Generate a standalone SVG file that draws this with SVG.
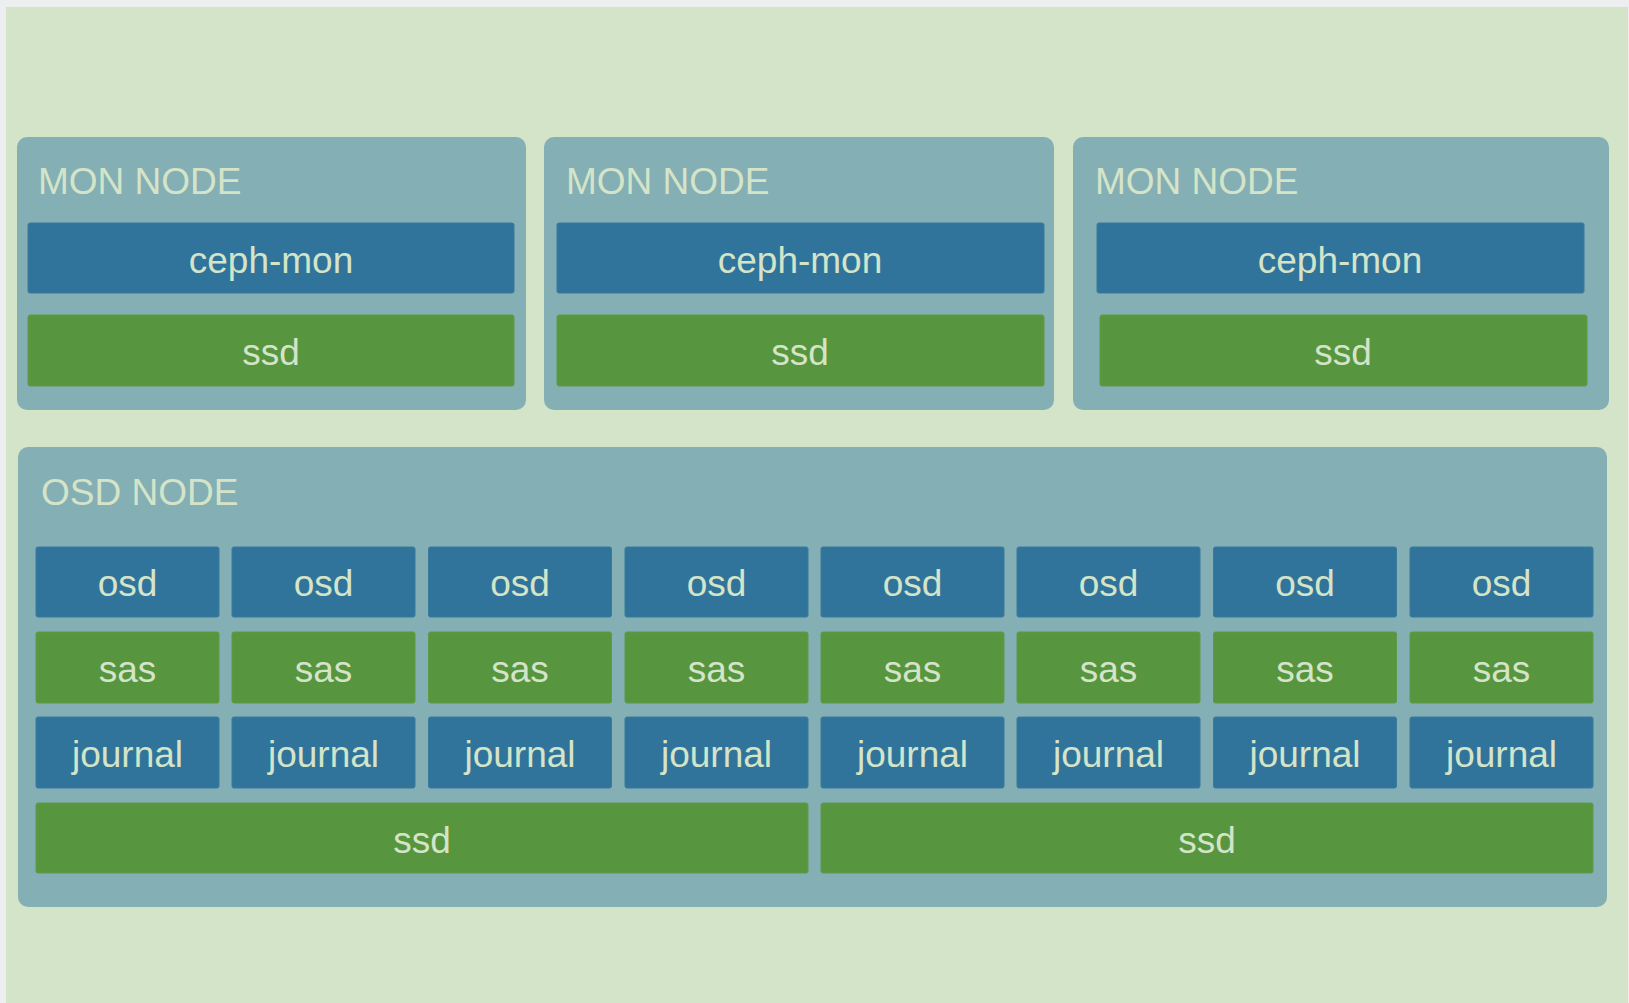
<svg xmlns="http://www.w3.org/2000/svg" width="1629" height="1003" viewBox="0 0 1629 1003">
<style>
.node{fill:#84AFB4;}
.blue{fill:#31749B;stroke:#3A7A9C;stroke-width:1;}
.green{fill:#57953F;stroke:#5E9A48;stroke-width:1;}
.title{font-family:"Liberation Sans",Arial,sans-serif;font-size:37px;fill:#D4E4C8;}
.lbl{font-family:"Liberation Sans",Arial,sans-serif;font-size:37px;fill:#D4E4C8;text-anchor:middle;}
</style>
<rect x="0" y="0" width="1629" height="1003" fill="#ECEEF0"/>
<rect x="6" y="7" width="1622" height="996" fill="#D4E4C8"/>

<g id="mon1">
<rect class="node" x="17" y="137" width="509" height="273" rx="10"/>
<text class="title" x="38" y="194">MON NODE</text>
<rect class="blue" x="28" y="223" width="486" height="70" rx="2"/>
<text class="lbl" x="271" y="273">ceph-mon</text>
<rect class="green" x="28" y="315" width="486" height="71" rx="2"/>
<text class="lbl" x="271" y="365">ssd</text>
</g>

<g id="mon2">
<rect class="node" x="544" y="137" width="510" height="273" rx="10"/>
<text class="title" x="566" y="194">MON NODE</text>
<rect class="blue" x="557" y="223" width="487" height="70" rx="2"/>
<text class="lbl" x="800" y="273">ceph-mon</text>
<rect class="green" x="557" y="315" width="487" height="71" rx="2"/>
<text class="lbl" x="800" y="365">ssd</text>
</g>

<g id="mon3">
<rect class="node" x="1073" y="137" width="536" height="273" rx="10"/>
<text class="title" x="1095" y="194">MON NODE</text>
<rect class="blue" x="1097" y="223" width="487" height="70" rx="2"/>
<text class="lbl" x="1340" y="273">ceph-mon</text>
<rect class="green" x="1100" y="315" width="487" height="71" rx="2"/>
<text class="lbl" x="1343" y="365">ssd</text>
</g>

<g id="osdnode">
<rect class="node" x="18" y="447" width="1589" height="460" rx="10"/>
<text class="title" x="41" y="505">OSD NODE</text>
</g>

<g id="osd-col1">
<rect class="blue" x="36" y="547" width="183" height="70" rx="2"/><text class="lbl" x="127.5" y="596">osd</text>
<rect class="green" x="36" y="632" width="183" height="71" rx="2"/><text class="lbl" x="127.5" y="682">sas</text>
<rect class="blue" x="36" y="717" width="183" height="71" rx="2"/><text class="lbl" x="127.5" y="767">journal</text>
</g>
<g id="osd-col2">
<rect class="blue" x="232" y="547" width="183" height="70" rx="2"/><text class="lbl" x="323.5" y="596">osd</text>
<rect class="green" x="232" y="632" width="183" height="71" rx="2"/><text class="lbl" x="323.5" y="682">sas</text>
<rect class="blue" x="232" y="717" width="183" height="71" rx="2"/><text class="lbl" x="323.5" y="767">journal</text>
</g>
<g id="osd-col3">
<rect class="blue" x="428.5" y="547" width="183" height="70" rx="2"/><text class="lbl" x="520" y="596">osd</text>
<rect class="green" x="428.5" y="632" width="183" height="71" rx="2"/><text class="lbl" x="520" y="682">sas</text>
<rect class="blue" x="428.5" y="717" width="183" height="71" rx="2"/><text class="lbl" x="520" y="767">journal</text>
</g>
<g id="osd-col4">
<rect class="blue" x="625" y="547" width="183" height="70" rx="2"/><text class="lbl" x="716.5" y="596">osd</text>
<rect class="green" x="625" y="632" width="183" height="71" rx="2"/><text class="lbl" x="716.5" y="682">sas</text>
<rect class="blue" x="625" y="717" width="183" height="71" rx="2"/><text class="lbl" x="716.5" y="767">journal</text>
</g>
<g id="osd-col5">
<rect class="blue" x="821" y="547" width="183" height="70" rx="2"/><text class="lbl" x="912.5" y="596">osd</text>
<rect class="green" x="821" y="632" width="183" height="71" rx="2"/><text class="lbl" x="912.5" y="682">sas</text>
<rect class="blue" x="821" y="717" width="183" height="71" rx="2"/><text class="lbl" x="912.5" y="767">journal</text>
</g>
<g id="osd-col6">
<rect class="blue" x="1017" y="547" width="183" height="70" rx="2"/><text class="lbl" x="1108.5" y="596">osd</text>
<rect class="green" x="1017" y="632" width="183" height="71" rx="2"/><text class="lbl" x="1108.5" y="682">sas</text>
<rect class="blue" x="1017" y="717" width="183" height="71" rx="2"/><text class="lbl" x="1108.5" y="767">journal</text>
</g>
<g id="osd-col7">
<rect class="blue" x="1213.5" y="547" width="183" height="70" rx="2"/><text class="lbl" x="1305" y="596">osd</text>
<rect class="green" x="1213.5" y="632" width="183" height="71" rx="2"/><text class="lbl" x="1305" y="682">sas</text>
<rect class="blue" x="1213.5" y="717" width="183" height="71" rx="2"/><text class="lbl" x="1305" y="767">journal</text>
</g>
<g id="osd-col8">
<rect class="blue" x="1410" y="547" width="183" height="70" rx="2"/><text class="lbl" x="1501.5" y="596">osd</text>
<rect class="green" x="1410" y="632" width="183" height="71" rx="2"/><text class="lbl" x="1501.5" y="682">sas</text>
<rect class="blue" x="1410" y="717" width="183" height="71" rx="2"/><text class="lbl" x="1501.5" y="767">journal</text>
</g>
<g id="ssd-left">
<rect class="green" x="36" y="803" width="772" height="70" rx="2"/><text class="lbl" x="422" y="853">ssd</text>
</g>
<g id="ssd-right">
<rect class="green" x="821" y="803" width="772" height="70" rx="2"/><text class="lbl" x="1207" y="853">ssd</text>
</g>
<g id="connectors"/>
</svg>
